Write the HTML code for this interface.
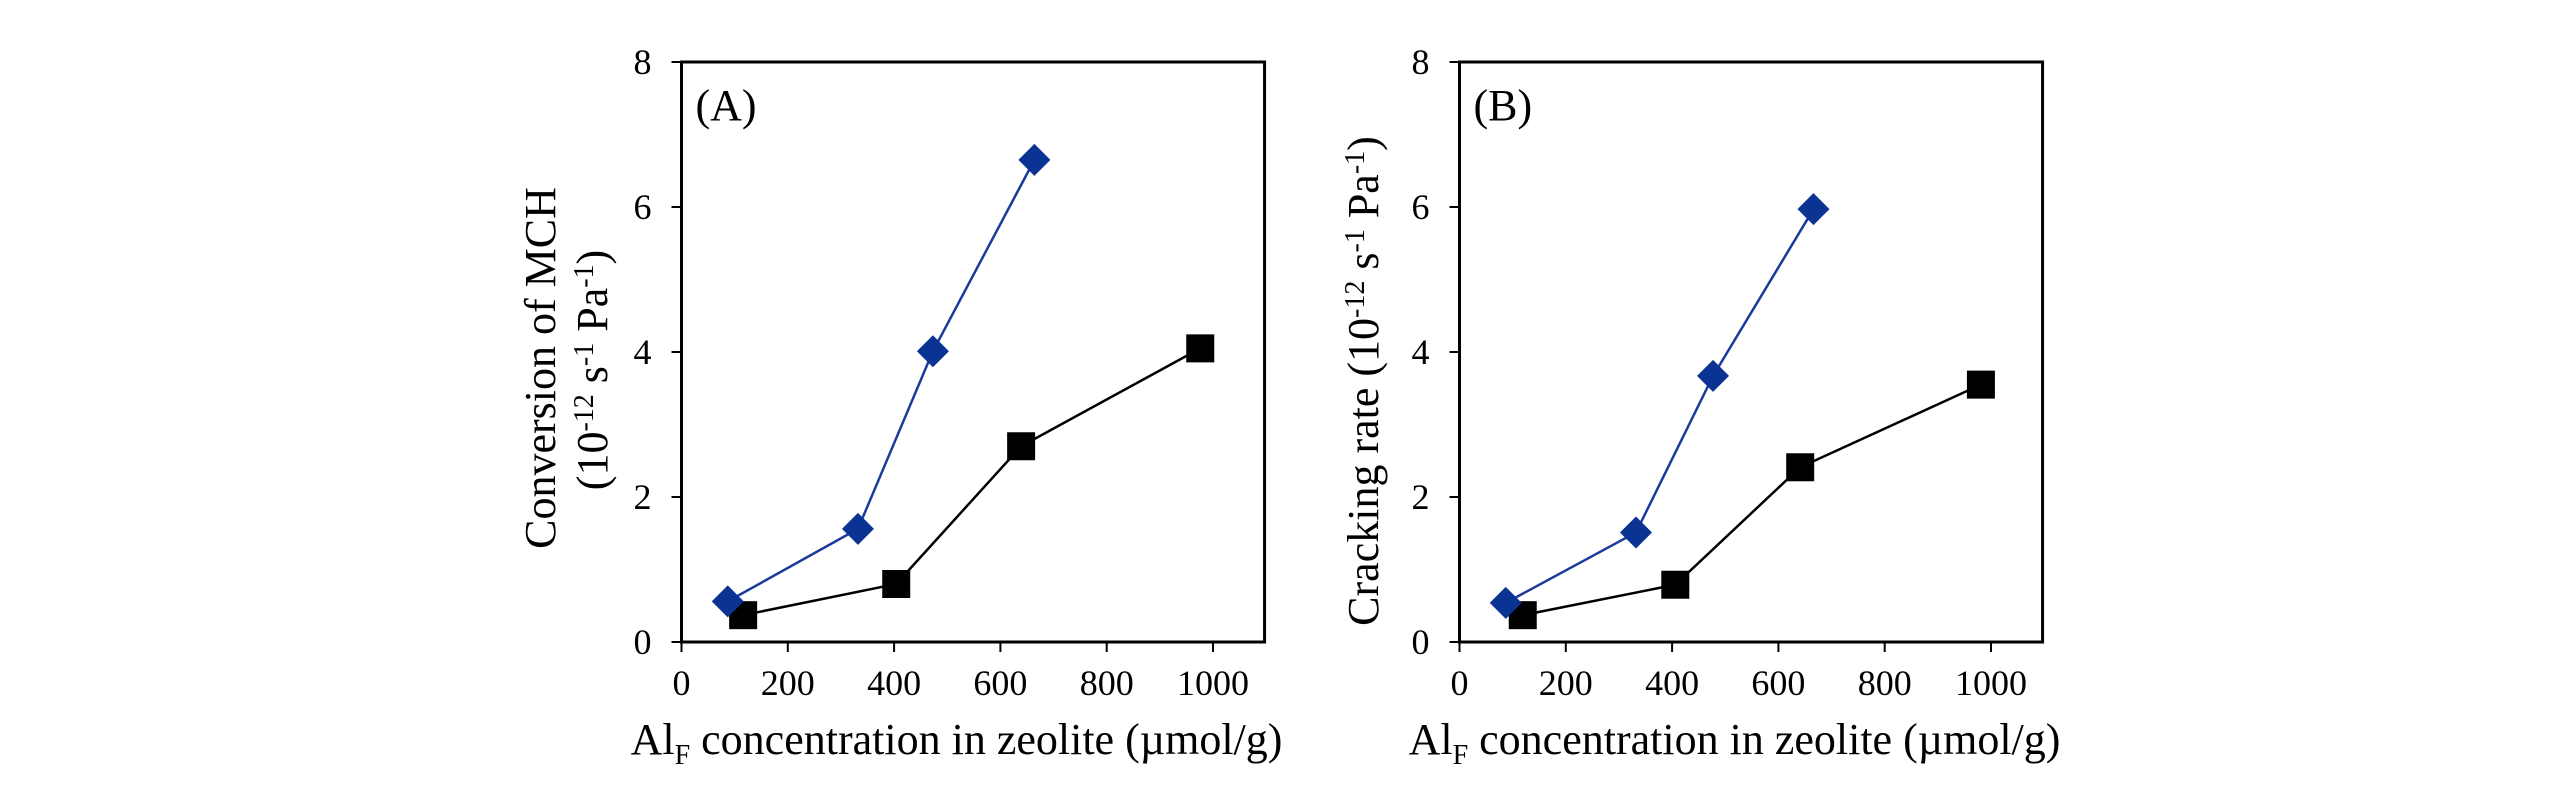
<!DOCTYPE html>
<html><head><meta charset="utf-8"><style>
html,body{margin:0;padding:0;background:#fff;}
svg{display:block;font-family:"Liberation Serif",serif;}
</style></head><body>
<svg id="chart" width="2567" height="787" viewBox="0 0 2567 787" xmlns="http://www.w3.org/2000/svg"></svg>
<script>
const xTicks = [0, 200, 400, 600, 800, 1000];
const yTicks = [0, 2, 4, 6, 8];
const aBlueX = [87, 332, 473, 664];
const aBlueY = [0.56, 1.56, 4.01, 6.65];
const aBlackX = [116, 404, 639, 976];
const aBlackY = [0.37, 0.80, 2.70, 4.05];
const bBlueX = [87, 332, 477, 666];
const bBlueY = [0.54, 1.51, 3.67, 5.97];
const bBlackX = [119, 406, 641, 981];
const bBlackY = [0.37, 0.79, 2.41, 3.55];

const NS = "http://www.w3.org/2000/svg";
const svg = document.getElementById("chart");
function mk(tag, attrs, parent) {
  const e = document.createElementNS(NS, tag);
  for (const k in attrs) e.setAttribute(k, attrs[k]);
  (parent || svg).appendChild(e);
  return e;
}

function panel(ox, label, bx, by, kx, ky, prefix) {
  const top = 62, bottom = 642, xPerUnit = 0.5315, xMax = 1097;
  const sx = v => ox + v * xPerUnit;
  const sy = v => bottom - v * (bottom - top) / 8;
  const g = mk("g", {});
  
  
  const frame = mk("rect", {x: ox, y: top, width: sx(xMax) - ox, height: bottom - top, fill: "none", stroke: "#000", "stroke-width": 3}, g);
  
  
  yTicks.forEach(t => {
    const y = sy(t);
    const tk = mk("line", {x1: ox - 10, x2: ox, y1: y, y2: y, stroke: "#000", "stroke-width": 2}, g);
    
    
    const tl = mk("text", {x: ox - 30, y: y + 12, "font-size": 36, "text-anchor": "end"}, g);
    tl.textContent = t;
    
    
  });
  xTicks.forEach(t => {
    const x = sx(t);
    const tk = mk("line", {x1: x, x2: x, y1: bottom, y2: bottom + 10, stroke: "#000", "stroke-width": 2}, g);
    
    
    const tl = mk("text", {x: x, y: 695, "font-size": 36, "text-anchor": "middle"}, g);
    tl.textContent = t;
    
    
  });
  const pl = mk("text", {x: ox + 14, y: 120, "font-size": 44}, g);
  pl.textContent = label;
  
  
  const xt = mk("text", {x: ox + 275, y: 754, "font-size": 44, "text-anchor": "middle"}, g);
  xt.innerHTML = 'Al<tspan font-size="28" dy="10">F</tspan><tspan dy="-10"> concentration in zeolite (µmol/g)</tspan>';
  
  

  // lines
  const bl = mk("polyline", {points: kx.map((v, i) => sx(v) + "," + sy(ky[i])).join(" "), fill: "none", stroke: "#000", "stroke-width": 2.5}, g);
  
  
  const ul = mk("polyline", {points: bx.map((v, i) => sx(v) + "," + sy(by[i])).join(" "), fill: "none", stroke: "#1a3a9c", "stroke-width": 2.5}, g);
  
  
  kx.forEach((v, i) => {
    const r = mk("rect", {x: sx(v) - 14, y: sy(ky[i]) - 14, width: 28, height: 28, fill: "#000"}, g);
    
    
  });
  bx.forEach((v, i) => {
    const cx = sx(v), cy = sy(by[i]), d = 16;
    const p = mk("polygon", {points: `${cx},${cy-d} ${cx+d},${cy} ${cx},${cy+d} ${cx-d},${cy}`, fill: "#0a3393"}, g);
    
    
  });
  return g;
}

const gA = panel(681.5, "(A)", aBlueX, aBlueY, aBlackX, aBlackY, "panel-a");
const gB = panel(1459.5, "(B)", bBlueX, bBlueY, bBlackX, bBlackY, "panel-b");

const ya1 = mk("text", {x: 0, y: 0, "font-size": 44, "text-anchor": "middle", transform: "translate(555,368) rotate(-90)"});
ya1.textContent = "Conversion of MCH";


const ya2 = mk("text", {x: 0, y: 0, "font-size": 44, "text-anchor": "middle", transform: "translate(607,370) rotate(-90)"});
ya2.innerHTML = '(10<tspan font-size="28" dy="-14">-12</tspan><tspan dy="14"> s</tspan><tspan font-size="28" dy="-14">-1</tspan><tspan dy="14"> Pa</tspan><tspan font-size="28" dy="-14">-1</tspan><tspan dy="14">)</tspan>';


const yb = mk("text", {x: 0, y: 0, "font-size": 44, "text-anchor": "middle", transform: "translate(1378,381) rotate(-90)"});
yb.innerHTML = 'Cracking rate (10<tspan font-size="28" dy="-14">-12</tspan><tspan dy="14"> s</tspan><tspan font-size="28" dy="-14">-1</tspan><tspan dy="14"> Pa</tspan><tspan font-size="28" dy="-14">-1</tspan><tspan dy="14">)</tspan>';


</script>
</body></html>
